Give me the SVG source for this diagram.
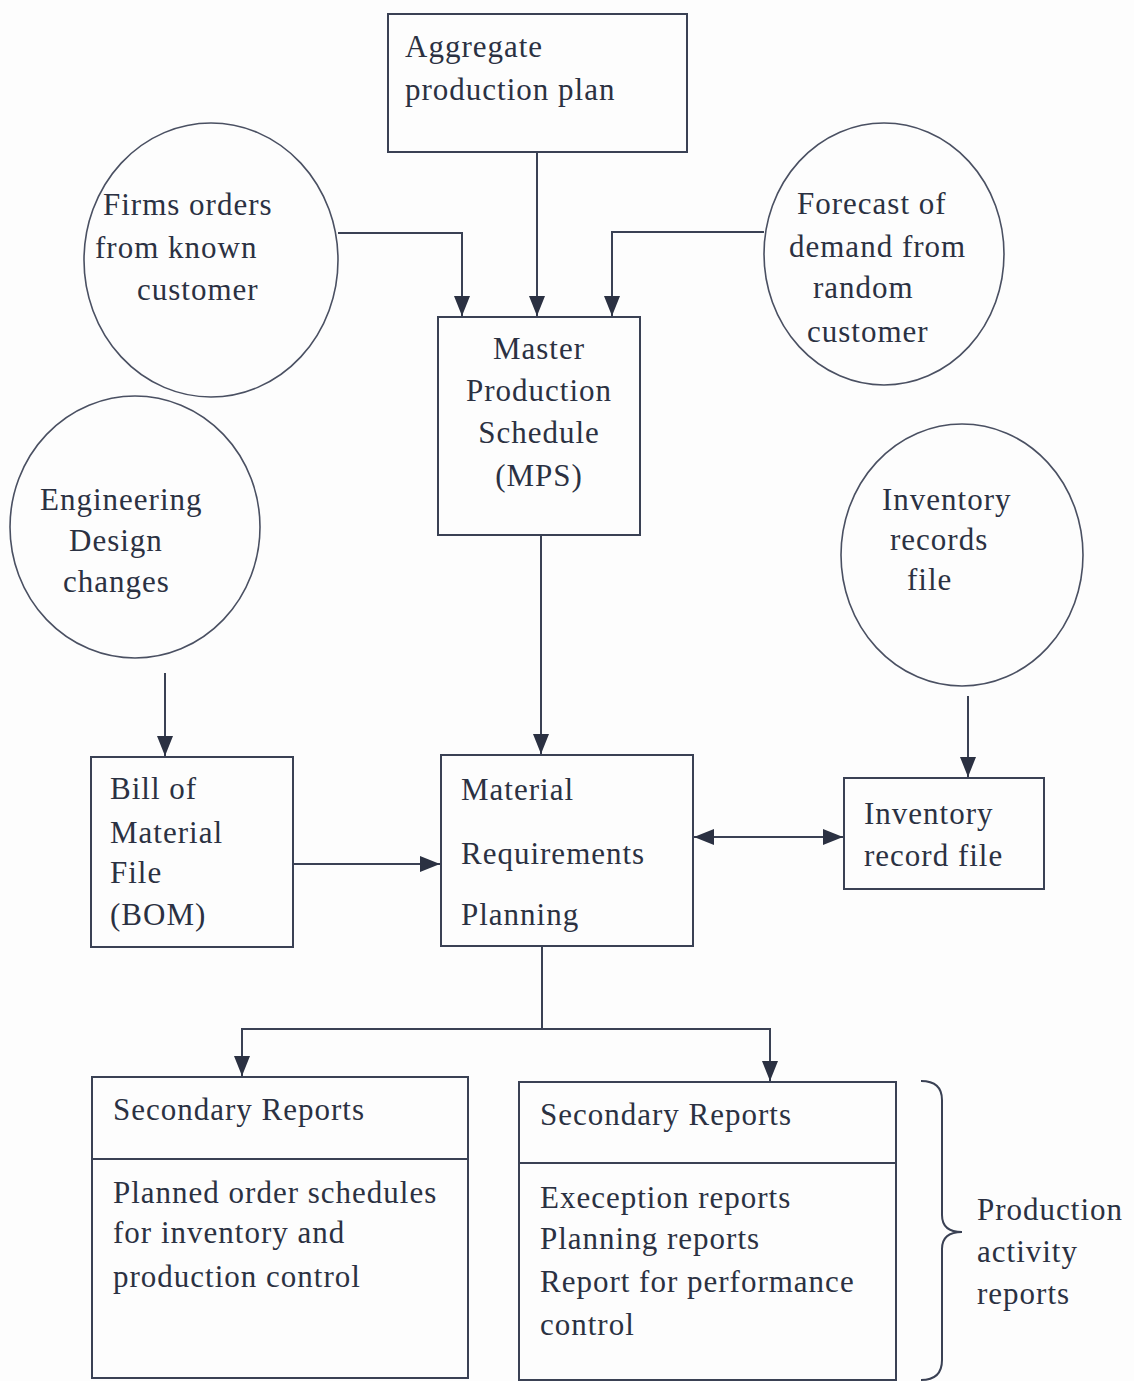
<svg xmlns="http://www.w3.org/2000/svg" width="1134" height="1381" viewBox="0 0 1134 1381">
  <style>
    .box { fill: none; stroke: #3a4154; stroke-width: 2; }
    .ell { fill: none; stroke: #4a5062; stroke-width: 1.6; }
    .wire { fill: none; stroke: #3a4154; stroke-width: 2; }
    text { font-family: "Liberation Serif", "Times New Roman", serif; font-size: 31px; fill: #2b3142; letter-spacing: 1px; }
  </style>
  <defs>
    <marker id="arrow" viewBox="0 0 20 16" refX="20" refY="8" markerWidth="20" markerHeight="16" markerUnits="userSpaceOnUse" orient="auto-start-reverse">
      <path d="M0,0 L20,8 L0,16 Z" fill="#2b3142"/>
    </marker>
  </defs>
  <rect width="1134" height="1381" fill="#fdfdfd"/>

  <g id="aggregate-plan">
    <rect class="box" x="388" y="14" width="299" height="138"/>
    <text x="405" y="57">Aggregate</text>
    <text x="405" y="100">production plan</text>
  </g>

  <g id="firm-orders">
    <ellipse class="ell" cx="211" cy="260" rx="127" ry="137"/>
    <text x="103" y="215">Firms orders</text>
    <text x="95" y="258">from known</text>
    <text x="137" y="300">customer</text>
  </g>

  <g id="forecast">
    <ellipse class="ell" cx="884" cy="254" rx="120" ry="131"/>
    <text x="797" y="214">Forecast of</text>
    <text x="789" y="257">demand from</text>
    <text x="813" y="298">random</text>
    <text x="807" y="342">customer</text>
  </g>

  <g id="mps">
    <rect class="box" x="438" y="317" width="202" height="218"/>
    <text x="539" y="359" text-anchor="middle">Master</text>
    <text x="539" y="401" text-anchor="middle">Production</text>
    <text x="539" y="443" text-anchor="middle">Schedule</text>
    <text x="539" y="486" text-anchor="middle">(MPS)</text>
  </g>

  <g id="engineering-changes">
    <ellipse class="ell" cx="135" cy="527" rx="125" ry="131"/>
    <text x="40" y="510">Engineering</text>
    <text x="69" y="551">Design</text>
    <text x="63" y="592">changes</text>
  </g>

  <g id="inventory-records">
    <ellipse class="ell" cx="962" cy="555" rx="121" ry="131"/>
    <text x="882" y="510">Inventory</text>
    <text x="890" y="550">records</text>
    <text x="907" y="590">file</text>
  </g>

  <g id="bom">
    <rect class="box" x="91" y="757" width="202" height="190"/>
    <text x="110" y="799">Bill of</text>
    <text x="110" y="843">Material</text>
    <text x="110" y="883">File</text>
    <text x="110" y="925">(BOM)</text>
  </g>

  <g id="mrp">
    <rect class="box" x="441" y="755" width="252" height="191"/>
    <text x="461" y="800">Material</text>
    <text x="461" y="864">Requirements</text>
    <text x="461" y="925">Planning</text>
  </g>

  <g id="inventory-record-file">
    <rect class="box" x="844" y="778" width="200" height="111"/>
    <text x="864" y="824">Inventory</text>
    <text x="864" y="866">record file</text>
  </g>

  <g id="planned-order-reports">
    <rect class="box" x="92" y="1077" width="376" height="301"/>
    <line class="box" x1="92" y1="1159" x2="468" y2="1159"/>
    <text x="113" y="1120">Secondary Reports</text>
    <text x="113" y="1203">Planned order schedules</text>
    <text x="113" y="1243">for inventory and</text>
    <text x="113" y="1287">production control</text>
  </g>

  <g id="activity-reports">
    <rect class="box" x="519" y="1082" width="377" height="298"/>
    <line class="box" x1="519" y1="1163" x2="896" y2="1163"/>
    <text x="540" y="1125">Secondary Reports</text>
    <text x="540" y="1208">Exeception reports</text>
    <text x="540" y="1249">Planning reports</text>
    <text x="540" y="1292">Report for performance</text>
    <text x="540" y="1335">control</text>
  </g>

  <g id="production-activity-label">
    <path class="wire" d="M921,1081 Q942,1081 942,1100 L942,1215 Q942,1232 962,1232 Q942,1232 942,1249 L942,1360 Q942,1380 921,1380"/>
    <text x="977" y="1220">Production</text>
    <text x="977" y="1262">activity</text>
    <text x="977" y="1304">reports</text>
  </g>

  <g id="connectors">
    <path class="wire" d="M537,152 L537,316" marker-end="url(#arrow)"/>
    <path class="wire" d="M338,233 L462,233 L462,316" marker-end="url(#arrow)"/>
    <path class="wire" d="M764,232 L612,232 L612,316" marker-end="url(#arrow)"/>
    <path class="wire" d="M541,535 L541,754" marker-end="url(#arrow)"/>
    <path class="wire" d="M165,673 L165,756" marker-end="url(#arrow)"/>
    <path class="wire" d="M293,864 L440,864" marker-end="url(#arrow)"/>
    <path class="wire" d="M968,696 L968,777" marker-end="url(#arrow)"/>
    <path class="wire" d="M694,837 L843,837" marker-start="url(#arrow)" marker-end="url(#arrow)"/>
    <path class="wire" d="M542,946 L542,1029 L242,1029 L242,1076" marker-end="url(#arrow)"/>
    <path class="wire" d="M542,1029 L770,1029 L770,1081" marker-end="url(#arrow)"/>
  </g>
</svg>
